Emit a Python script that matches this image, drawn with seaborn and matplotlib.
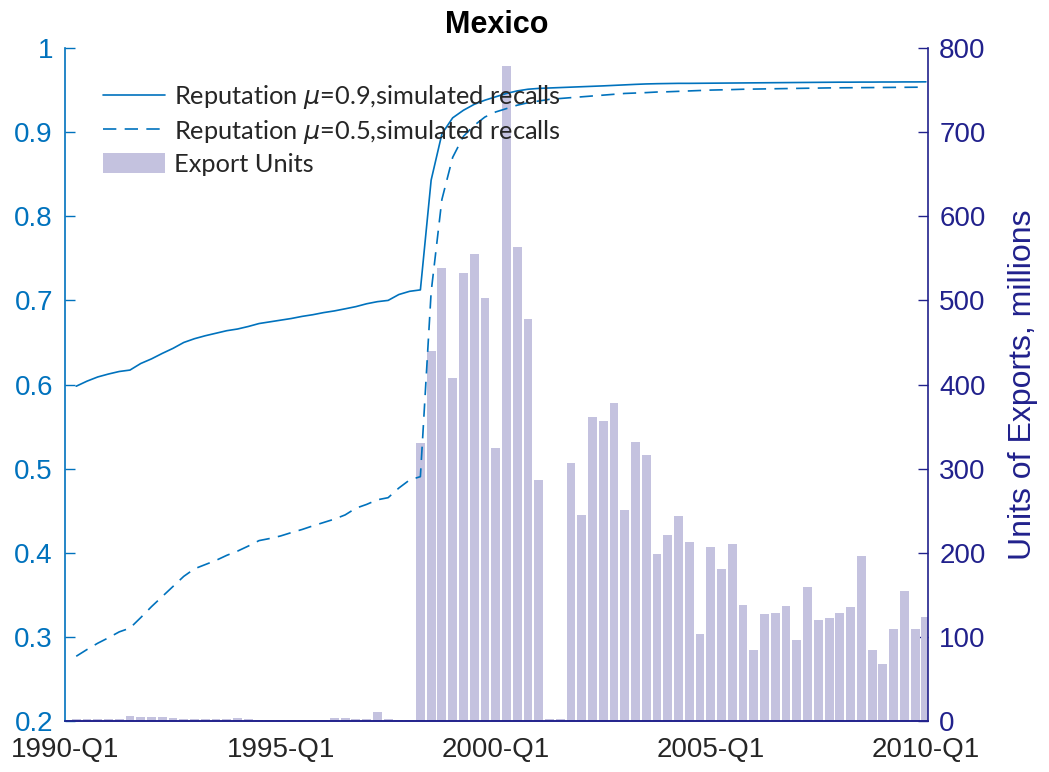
import numpy as np
import pandas as pd
import matplotlib
matplotlib.use("Agg")
import matplotlib.pyplot as plt
import seaborn as sns

# quarter index: 0 = 1990-Q1 ... 80 = 2010-Q1
quarters = list(range(1, 81))

exports = [2.4, 2.4, 2.4, 2.4, 2.4, 5.5, 4.4, 4.4, 4.4, 4.0,
           2.4, 2.4, 2.0, 2.0, 2.0, 4.0, 2.4, 1.6, 1.6, 1.5,
           1.2, 1.2, 1.2, 1.6, 4.0, 3.2, 2.0, 2.0, 10.7, 2.8,
           1.6, 1.6,
           330, 440, 539, 408, 532, 555, 503, 324, 779, 563,
           478, 287, 2, 2, 307, 245, 362, 357, 378, 251,
           332, 316, 199, 221, 244, 213, 103, 207, 181, 210,
           138, 84, 127, 129, 137, 96, 159, 120, 123, 128,
           136, 196, 84, 68, 109, 155, 109, 124]

rep_mu09 = [0.598, 0.604, 0.609, 0.6125, 0.6155, 0.6172, 0.625, 0.6305, 0.637, 0.643,
            0.650, 0.6545, 0.658, 0.661, 0.664, 0.666, 0.669, 0.6725, 0.6745, 0.6765,
            0.6785, 0.681, 0.683, 0.6855, 0.6875, 0.690, 0.6926, 0.696, 0.6985, 0.700,
            0.707, 0.7108, 0.7125,
            0.843, 0.898, 0.917, 0.926, 0.933, 0.938, 0.942, 0.946, 0.949, 0.951,
            0.952, 0.9525, 0.953,
            0.9535, 0.954, 0.9545, 0.955, 0.9556, 0.9562, 0.9568, 0.9573, 0.9576, 0.9578,
            0.958, 0.958, 0.9581, 0.9582, 0.9583, 0.9584, 0.9585, 0.9586, 0.9587, 0.9588,
            0.9589, 0.959, 0.9591, 0.9592, 0.9593, 0.9594, 0.9594, 0.9595, 0.9595, 0.9596,
            0.9596, 0.9597, 0.9597, 0.9598]

rep_mu05 = [0.277, 0.285, 0.2925, 0.299, 0.306, 0.3105, 0.323, 0.336, 0.348, 0.360,
            0.372, 0.381, 0.386, 0.391, 0.397, 0.402, 0.408, 0.4145, 0.417, 0.420,
            0.424, 0.4277, 0.432, 0.436, 0.440, 0.445, 0.453, 0.4575, 0.463, 0.4655,
            0.477, 0.4866, 0.4905,
            0.71, 0.82, 0.87, 0.895, 0.908, 0.918, 0.924, 0.928, 0.932, 0.935,
            0.937, 0.939, 0.940,
            0.941, 0.942, 0.943, 0.944, 0.945, 0.946, 0.9465, 0.947, 0.9477, 0.948,
            0.9485, 0.949, 0.9495, 0.950, 0.9503, 0.9506, 0.951, 0.9512, 0.9514, 0.9516,
            0.9518, 0.952, 0.9522, 0.9524, 0.9526, 0.9527, 0.9528, 0.9529, 0.953, 0.9531,
            0.9532, 0.9533, 0.9534, 0.9535]

tick_pos = [0, 20, 40, 60, 80]
tick_labels = ['1990-Q1', '1995-Q1', '2000-Q1', '2005-Q1', '2010-Q1']

left_color = '#0072BD'
right_color = '#21218C'
bar_color = '#C4C2DF'
text_color = '#262626'

sns.set_style("white")
plt.rcParams['font.family'] = ['Liberation Sans', 'DejaVu Sans']
plt.rcParams['mathtext.fontset'] = 'dejavusans'

df = pd.DataFrame({'quarter': quarters, 'exports': exports,
                   'mu09': rep_mu09, 'mu05': rep_mu05})

fig = plt.figure(figsize=(10.49, 7.72), dpi=100)
ax = fig.add_axes([0.0624, 0.066, 0.8223, 0.8718])
ax2 = ax.twinx()

sns.barplot(data=df, x='quarter', y='exports', native_scale=True, width=0.82,
            color=bar_color, saturation=1, linewidth=0, ax=ax2, label='Export Units')
sns.lineplot(data=df, x='quarter', y='mu09', ax=ax, color=left_color, lw=1.2,
             label=r'Reputation $\mu$=0.9,simulated recalls')
sns.lineplot(data=df, x='quarter', y='mu05', ax=ax, color=left_color, lw=1.2,
             linestyle=(0, (8, 5)), label=r'Reputation $\mu$=0.5,simulated recalls')

# lines above the bars
ax.set_zorder(ax2.get_zorder() + 1)
ax.patch.set_visible(False)

ax.set_xlim(0, 80.2)
ax.set_ylim(0.2, 1)
ax2.set_ylim(0, 800)
ax.set_xticks(tick_pos)
ax.set_xticklabels(tick_labels)
ax.set_yticks(np.arange(2, 11) / 10)
ax.set_yticklabels(['0.2', '0.3', '0.4', '0.5', '0.6', '0.7', '0.8', '0.9', '1'])
ax2.set_yticks(range(0, 801, 100))

ax.set_xlabel('')
ax.set_ylabel('')
ax2.set_xlabel('')
ax2.set_ylabel('Units of Exports, millions', color=right_color, fontsize=23, labelpad=16)

ax.tick_params(axis='y', direction='in', colors=left_color, labelsize=20, length=7, width=1, pad=9)
ax2.tick_params(axis='y', direction='in', colors=right_color, labelsize=20, length=7, width=1, pad=8)
ax.tick_params(axis='x', direction='in', color=text_color, labelcolor=text_color,
               labelsize=20, length=7, width=1, pad=11.5)
ax2.tick_params(axis='x', bottom=False, labelbottom=False)

for a in (ax, ax2):
    a.spines['top'].set_visible(False)
    a.spines['bottom'].set_color(right_color)
    a.spines['bottom'].set_linewidth(1.2)
ax.spines['right'].set_visible(False)
ax.spines['left'].set_color(left_color)
ax.spines['left'].set_linewidth(1.2)
ax2.spines['left'].set_visible(False)
ax2.spines['right'].set_color(right_color)
ax2.spines['right'].set_linewidth(1.2)

ax.set_title('Mexico', fontweight='bold', fontsize=22, color='black', pad=11)

if ax2.get_legend() is not None:
    ax2.get_legend().remove()
h1, l1 = ax.get_legend_handles_labels()
h2, l2 = ax2.get_legend_handles_labels()
leg = ax.legend(h1 + h2, l1 + l2, loc='upper left', bbox_to_anchor=(0.0435, 0.948),
                frameon=False, borderpad=0, borderaxespad=0,
                prop={'family': 'Lato', 'size': 18.3}, handlelength=2.45,
                handleheight=0.85, handletextpad=0.33, labelspacing=0.27)
for t in leg.get_texts():
    t.set_color(text_color)

fig.savefig('out.png', dpi=100)
